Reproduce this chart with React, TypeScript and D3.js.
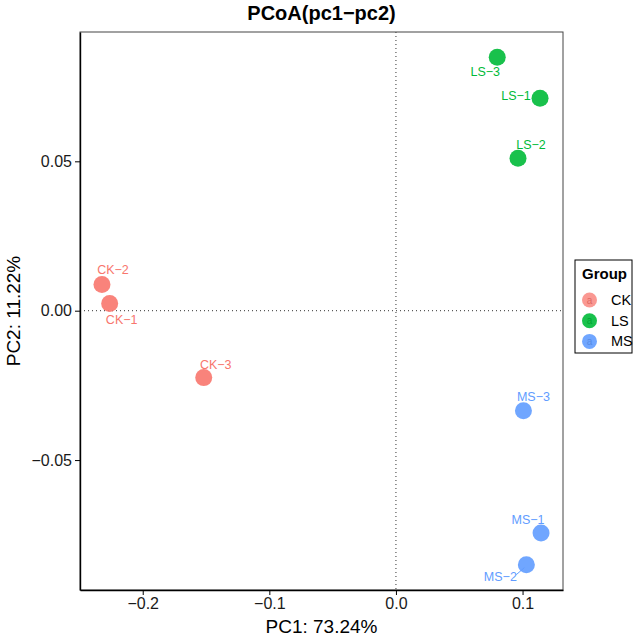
import * as d3 from "d3";
import { useRef, useEffect } from "react";

// sample scores on the first two principal coordinates
const samples = ["CK-1", "CK-2", "CK-3", "LS-1", "LS-2", "LS-3", "MS-1", "MS-2", "MS-3"];
const groups = ["CK", "CK", "CK", "LS", "LS", "LS", "MS", "MS", "MS"];
const pc1 = [-0.2261, -0.2322, -0.1518, 0.1138, 0.0964, 0.0800, 0.1146, 0.1030, 0.1007];
const pc2 = [0.0024, 0.0088, -0.0224, 0.0711, 0.0510, 0.0848, -0.0744, -0.0850, -0.0335];

const groupNames = ["CK", "LS", "MS"];
const groupColors = ["#F8766D", "#00BA38", "#619CFF"];

const xTicks = [-0.2, -0.1, 0.0, 0.1];
const yTicks = [-0.05, 0.0, 0.05];

// label placement (pixels from point, like ggrepel put them)
const labelOffset = {
  "CK-1": [12, 16], "CK-2": [11, -14], "CK-3": [12, -13],
  "LS-1": [-24, -2], "LS-2": [13, -13], "LS-3": [-12, 15],
  "MS-1": [-13, -13], "MS-2": [-26, 12], "MS-3": [10, -14],
};

const W = 641, H = 637;
const margin = { top: 32, right: 78, bottom: 47, left: 80 };
const minus = (s: string) => s.replace(/-/g, "\u2212");

const PCoAPlot = () => {
  const ref = useRef<SVGSVGElement>(null);

  useEffect(() => {
    const svg = d3.select(ref.current);
    svg.selectAll("*").remove();

    const pw = W - margin.left - margin.right;
    const ph = H - margin.top - margin.bottom;
    const g = svg.append("g").attr("transform", `translate(${margin.left},${margin.top})`);

    // ggplot style 5% expansion
    const xr = d3.extent(pc1) as [number, number];
    const yr = d3.extent(pc2) as [number, number];
    const xe = (xr[1] - xr[0]) * 0.05, ye = (yr[1] - yr[0]) * 0.05;
    const x = d3.scaleLinear().domain([xr[0] - xe, xr[1] + xe]).range([0, pw]);
    const y = d3.scaleLinear().domain([yr[0] - ye, yr[1] + ye]).range([ph, 0]);
    const color = d3.scaleOrdinal<string>().domain(groupNames).range(groupColors);

    const font = "'Liberation Sans', Arial, Helvetica, sans-serif";

    // zero reference lines
    g.append("line")
      .attr("x1", x(0)).attr("x2", x(0)).attr("y1", 0).attr("y2", ph)
      .attr("stroke", "#333").attr("stroke-width", 1).attr("stroke-dasharray", "1,3");
    g.append("line")
      .attr("x1", 0).attr("x2", pw).attr("y1", y(0)).attr("y2", y(0))
      .attr("stroke", "#333").attr("stroke-width", 1).attr("stroke-dasharray", "1,3");

    // panel border
    g.append("rect")
      .attr("width", pw).attr("height", ph)
      .attr("fill", "none").attr("stroke", "#444").attr("stroke-width", 1);

    // axes
    const xAxis = g.append("g").attr("transform", `translate(0,${ph})`)
      .call(d3.axisBottom(x).tickValues(xTicks).tickSize(5).tickSizeOuter(0).tickPadding(3)
        .tickFormat(d => minus(d3.format(".1f")(d as number))));
    const yAxis = g.append("g")
      .call(d3.axisLeft(y).tickValues(yTicks).tickSize(5).tickSizeOuter(0).tickPadding(3)
        .tickFormat(d => minus(d3.format(".2f")(d as number))));
    [xAxis, yAxis].forEach(a => {
      a.select(".domain").attr("stroke", "#000").attr("stroke-width", 1.4);
      a.selectAll(".tick line").attr("stroke", "#000").attr("stroke-width", 1);
      a.selectAll(".tick text").attr("fill", "#1a1a1a")
        .style("font-family", font).style("font-size", "16px");
    });

    // points
    g.selectAll("circle.pt")
      .data(samples)
      .join("circle")
      .attr("class", "pt")
      .attr("cx", (d, i) => x(pc1[i]))
      .attr("cy", (d, i) => y(pc2[i]))
      .attr("r", 8.5)
      .attr("fill", (d, i) => color(groups[i]))
      .attr("fill-opacity", 0.9);

    // leader segment for labels pushed far from their point
    samples.forEach((s, i) => {
      const [dx, dy] = labelOffset[s];
      if (Math.hypot(dx, dy) > 25) {
        g.append("line")
          .attr("x1", x(pc1[i]) + dx + 16).attr("y1", y(pc2[i]) + dy - 2)
          .attr("x2", x(pc1[i]) - 2).attr("y2", y(pc2[i]) + 3)
          .attr("stroke", color(groups[i])).attr("stroke-width", 1);
      }
    });

    // sample labels
    g.selectAll("text.lab")
      .data(samples)
      .join("text")
      .attr("class", "lab")
      .attr("x", (d, i) => x(pc1[i]) + labelOffset[d][0])
      .attr("y", (d, i) => y(pc2[i]) + labelOffset[d][1])
      .attr("text-anchor", "middle")
      .attr("dominant-baseline", "central")
      .attr("fill", (d, i) => color(groups[i]))
      .style("font-family", font)
      .style("font-size", "12.5px")
      .text(d => minus(d));

    // title and axis titles
    svg.append("text")
      .attr("x", margin.left + pw / 2).attr("y", 20)
      .attr("text-anchor", "middle")
      .style("font-family", font).style("font-size", "20px").style("font-weight", "bold")
      .text(minus("PCoA(pc1-pc2)"));
    svg.append("text")
      .attr("x", margin.left + pw / 2).attr("y", H - 4)
      .attr("text-anchor", "middle")
      .style("font-family", font).style("font-size", "19px")
      .text("PC1: 73.24%");
    svg.append("text")
      .attr("transform", `translate(20,${margin.top + ph / 2}) rotate(-90)`)
      .attr("text-anchor", "middle")
      .style("font-family", font).style("font-size", "19px")
      .text("PC2: 11.22%");

    // legend
    const lg = svg.append("g").attr("transform", "translate(575,260)");
    lg.append("rect")
      .attr("width", 57).attr("height", 93)
      .attr("fill", "#fff").attr("stroke", "#000").attr("stroke-width", 1);
    lg.append("text")
      .attr("x", 7).attr("y", 19)
      .style("font-family", font).style("font-size", "15px").style("font-weight", "bold")
      .text("Group");
    groupNames.forEach((name, i) => {
      const cy = 40 + i * 20.7;
      lg.append("circle")
        .attr("cx", 14.5).attr("cy", cy).attr("r", 7.5)
        .attr("fill", color(name)).attr("fill-opacity", i === 0 ? 0.75 : 0.9);
      lg.append("text")
        .attr("x", 14.5).attr("y", cy + 3.5)
        .attr("text-anchor", "middle")
        .attr("fill", d3.color(color(name))!.darker(0.3).formatHex())
        .style("font-family", font).style("font-size", "10px")
        .text("a");
      lg.append("text")
        .attr("x", 36).attr("y", cy + 5)
        .style("font-family", font).style("font-size", "14.5px")
        .text(name);
    });
  }, []);

  return (
    <svg ref={ref} width={W} height={H}
      style={{ position: "absolute", left: 0, top: 0, background: "#fff" }} />
  );
};

export default function App() {
  return <PCoAPlot />;
}
